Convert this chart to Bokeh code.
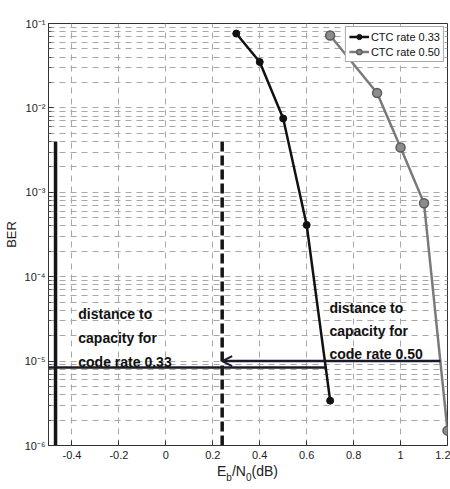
import math

from bokeh.plotting import figure
from bokeh.layouts import column
from bokeh.models import FixedTicker, Label, Arrow, OpenHead, Legend, LegendItem, Div
from bokeh.embed import file_html
from bokeh.resources import INLINE

# BER curves of the two CTC code rates
ebn0_r033 = [0.3, 0.4, 0.5, 0.6, 0.7]
ber_r033 = [7.6e-2, 3.5e-2, 7.5e-3, 4.1e-4, 3.4e-6]
ebn0_r050 = [0.7, 0.9, 1.0, 1.1, 1.2]
ber_r050 = [7.2e-2, 1.5e-2, 3.4e-3, 7.4e-4, 1.5e-6]

# capacity limits (Eb/N0, dB) and the distance markers
capacity_r033 = -0.47
capacity_r050 = 0.24
capacity_top_ber = 4e-3
gap_ber_r033 = 8.4e-6
gap_end_r033 = 0.684
gap_ber_r050 = 1.0e-5
gap_end_r050 = 1.17

x_ticks = [-0.4, -0.2, 0.0, 0.2, 0.4, 0.6, 0.8, 1.0, 1.2]
x_tick_labels = ["-0.4", "-0.2", "0", "0.2", "0.4", "0.6", "0.8", "1", "1.2"]
y_ticks = [1e-6, 1e-5, 1e-4, 1e-3, 1e-2, 1e-1]
y_tick_labels = ["10\u207b\u2076", "10\u207b\u2075", "10\u207b\u2074",
                 "10\u207b\u00b3", "10\u207b\u00b2", "10\u207b\u00b9"]

legend_labels = ["CTC rate 0.33", "CTC rate 0.50"]
note_r033 = ["distance to", "capacity for", "code rate 0.33"]
note_r050 = ["distance to", "capacity for", "code rate 0.50"]

FONT = "Liberation Sans"
X0, X1 = -0.5, 1.2
Y0, Y1 = 1e-6, 1e-1

# canvas size and frame edges in pixels (used to place free text)
W, H = 450, 463
FL, FR, FT, FB = 45, 447, 23, 445


def sx(px):
    return X0 + (px - FL) / (FR - FL) * (X1 - X0)


def sy(py):
    lo, hi = math.log10(Y0), math.log10(Y1)
    return 10 ** (hi - (py - FT) / (FB - FT) * (hi - lo))


p = figure(width=W, height=H, x_range=(X0, X1), y_range=(Y0, Y1),
           y_axis_type="log", output_backend="svg", toolbar_location=None,
           min_border_left=FL, min_border_right=W - FR,
           min_border_top=FT, min_border_bottom=H - FB)
p.background_fill_color = "white"
p.border_fill_color = "white"
p.outline_line_color = "#333333"
p.outline_line_width = 1

# ticks
xt = FixedTicker(ticks=x_ticks)
minor_y = [m * 10 ** e for e in range(-6, -1) for m in range(2, 10)]
yt = FixedTicker(ticks=y_ticks, minor_ticks=minor_y)
p.xaxis.ticker = xt
p.yaxis.ticker = yt
p.xgrid.ticker = xt
p.ygrid.ticker = yt
p.xaxis.major_label_overrides = dict(zip(x_ticks, x_tick_labels))
p.yaxis.major_label_overrides = dict(zip(y_ticks, y_tick_labels))

for ax in (p.xaxis, p.yaxis):
    ax.axis_line_color = "#333333"
    ax.major_tick_in = 5
    ax.major_tick_out = 0
    ax.minor_tick_in = 3
    ax.minor_tick_out = 0
    ax.major_tick_line_color = "#333333"
    ax.minor_tick_line_color = "#555555"
    ax.major_label_text_font = FONT
    ax.major_label_text_font_size = "11px"
    ax.major_label_text_color = "#222222"
p.xaxis.minor_tick_line_color = None
p.xaxis.major_label_standoff = 5
p.yaxis.major_label_standoff = 3

p.yaxis.axis_label = "BER"
p.yaxis.axis_label_text_font = FONT
p.yaxis.axis_label_text_font_size = "13px"
p.yaxis.axis_label_text_font_style = "normal"
p.yaxis.axis_label_text_color = "#222222"
p.yaxis.axis_label_standoff = 3

# grid
for g in (p.xgrid, p.ygrid):
    g.grid_line_color = "#a8a8a8"
    g.grid_line_dash = "6 5"
    g.grid_line_width = 1
p.ygrid.minor_grid_line_color = "#a8a8a8"
p.ygrid.minor_grid_line_dash = "6 5"

# capacity limits
p.segment(x0=[capacity_r033], y0=[Y0], x1=[capacity_r033], y1=[capacity_top_ber],
          line_color="#151515", line_width=3.5)
p.segment(x0=[capacity_r050], y0=[Y0], x1=[capacity_r050], y1=[capacity_top_ber],
          line_color="#151515", line_width=3.5, line_dash="10 4")

# distance markers
p.segment(x0=[X0], y0=[gap_ber_r033], x1=[gap_end_r033], y1=[gap_ber_r033],
          line_color="#1a1a2a", line_width=2.5)
p.add_layout(Arrow(end=OpenHead(size=10, line_width=2, line_color="#1a1a2a"),
                   x_start=gap_end_r050, y_start=gap_ber_r050,
                   x_end=capacity_r050, y_end=gap_ber_r050,
                   line_color="#1a1a2a", line_width=2.5))

# BER curves
l1 = p.line(ebn0_r033, ber_r033, line_color="#111111", line_width=2.5)
m1 = p.scatter(ebn0_r033, ber_r033, size=7, fill_color="#111111", line_color="#111111")
l2 = p.line(ebn0_r050, ber_r050, line_color="#7a7a7a", line_width=2.5)
m2 = p.scatter(ebn0_r050, ber_r050, size=9, fill_color="#8c8c8c",
               line_color="#5c5c5c", line_width=1.5)

legend = Legend(items=[LegendItem(label=legend_labels[0], renderers=[l1, m1]),
                       LegendItem(label=legend_labels[1], renderers=[l2, m2])],
                location="top_right")
legend.label_text_font = FONT
legend.label_text_font_size = "11px"
legend.label_text_color = "#111111"
legend.glyph_width = 20
legend.glyph_height = 13
legend.label_height = 13
legend.label_standoff = 2
legend.spacing = 2
legend.padding = 3
legend.margin = 3
legend.border_line_color = "#555555"
legend.border_line_width = 1
legend.background_fill_alpha = 1
p.add_layout(legend)

# annotation texts
for lines, px, baselines in ((note_r033, 75, [313, 337, 361]),
                             (note_r050, 328, [307, 330, 353])):
    for txt, by in zip(lines, baselines):
        p.add_layout(Label(x=sx(px), y=sy(by), text=txt, text_font=FONT,
                           text_font_size="14px", text_font_style="bold",
                           text_color="#111111", text_baseline="alphabetic",
                           text_align="left"))

# x axis title with subscripts, set under the plot
sub = "font-size:10px;vertical-align:-5px;line-height:0"
xlabel = Div(
    text=(f'<div style="position:absolute;left:217px;top:0px;white-space:nowrap;'
          f'font-family:{FONT};font-size:14px;color:#222222;line-height:16px">'
          f'E<span style="{sub}">b</span>/N<span style="{sub}">0</span>(dB)</div>'),
    width=W, height=489 - H, margin=0)

layout = column(p, xlabel, spacing=0)
open("out.html", "w").write(file_html(layout, INLINE))
